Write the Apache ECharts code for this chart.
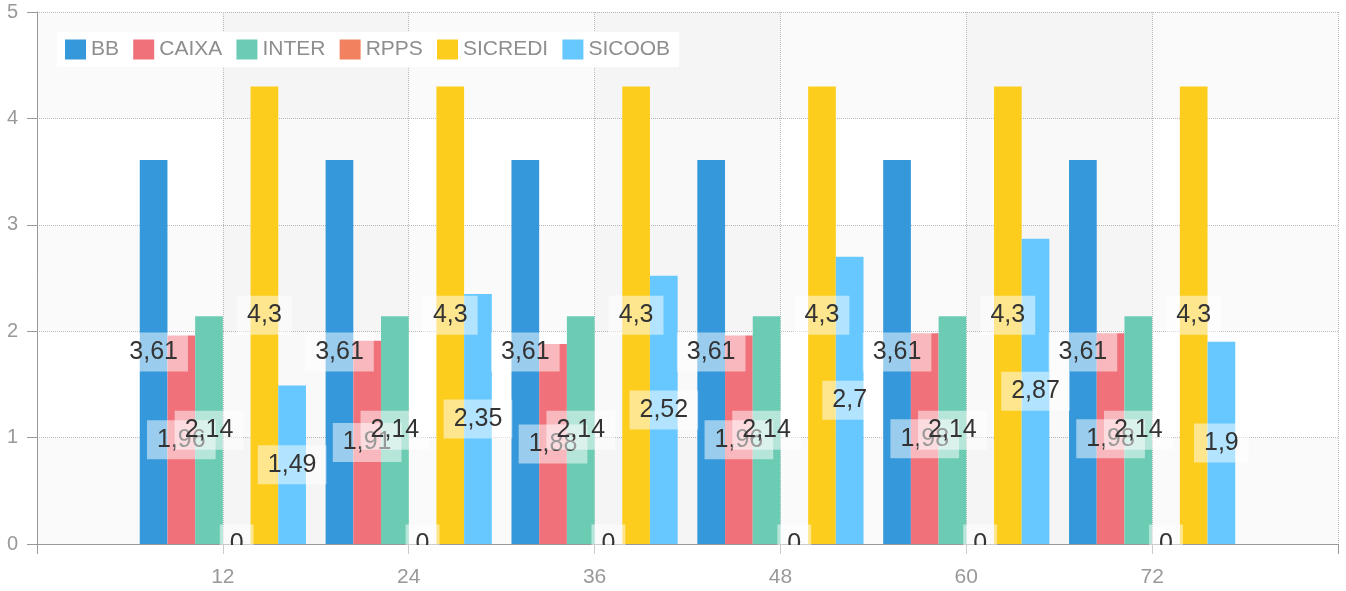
<!DOCTYPE html>
<html>
<head>
<meta charset="utf-8">
<script src="https://cdn.jsdelivr.net/npm/echarts@6/dist/echarts.min.js"></script>
<style>
html,body{margin:0;padding:0;background:#fff;}
#chart{width:1346px;height:591px;}
</style>
</head>
<body>
<div id="chart"></div>
<script>
var categories = [12, 24, 36, 48, 60, 72];
var seriesNames = ['BB', 'CAIXA', 'INTER', 'RPPS', 'SICREDI', 'SICOOB'];
var BB = [3.61, 3.61, 3.61, 3.61, 3.61, 3.61];
var CAIXA = [1.96, 1.91, 1.88, 1.96, 1.98, 1.98];
var INTER = [2.14, 2.14, 2.14, 2.14, 2.14, 2.14];
var RPPS = [0, 0, 0, 0, 0, 0];
var SICREDI = [4.3, 4.3, 4.3, 4.3, 4.3, 4.3];
var SICOOB = [1.49, 2.35, 2.52, 2.7, 2.87, 1.9];
var xTickLabels = ['12', '24', '36', '48', '60', '72'];
var yTickLabels = ['0', '1', '2', '3', '4', '5'];

var seriesValues = [BB, CAIXA, INTER, RPPS, SICREDI, SICOOB];
var colors = ['#3498db', '#f0717a', '#6ccbb3', '#f2825f', '#fccd1d', '#66c8fe'];
var FONT = 'Liberation Sans, Arial, sans-serif';

var chart = echarts.init(document.getElementById('chart'), null, {renderer: 'canvas'});

var series = seriesNames.map(function (name, i) {
  return {
    name: name,
    type: 'bar',
    barWidth: 27.7,
    barGap: '0%',
    data: categories.map(function (c, j) { return [c, seriesValues[i][j]]; }),
    itemStyle: {color: colors[i]},
    label: {
      show: true,
      position: 'inside',
      color: '#333',
      fontSize: 25,
      fontFamily: FONT,
      lineHeight: 25,
      backgroundColor: 'rgba(255,255,255,0.5)',
      padding: [7, 10],
      textBorderWidth: 0,
      formatter: function (p) { return String(p.value[1]).replace('.', ','); }
    }
  };
});

var option = {
  animation: false,
  color: colors,
  textStyle: {fontFamily: FONT},
  grid: {left: 37, right: 8, top: 12, bottom: 47, containLabel: false},
  legend: {
    data: seriesNames,
    left: 57,
    top: 32,
    padding: [7, 9, 7, 8],
    backgroundColor: '#fff',
    itemWidth: 21,
    itemHeight: 20,
    itemGap: 14.2,
    icon: 'rect',
    textStyle: {fontSize: 21, color: '#8e8e8e', fontFamily: FONT}
  },
  xAxis: {
    type: 'value',
    min: 0,
    max: 84,
    interval: 12,
    axisLine: {show: true, lineStyle: {color: '#999', width: 1}},
    axisTick: {show: true, length: 10, lineStyle: {color: '#999'}},
    axisLabel: {
      color: '#999',
      fontSize: 21,
      margin: 23,
      fontFamily: FONT,
      formatter: function (v) {
        var idx = categories.indexOf(v);
        return idx >= 0 ? xTickLabels[idx] : '';
      }
    },
    splitLine: {show: true, lineStyle: {type: 'dotted', color: '#bbb'}},
    splitArea: {show: true, areaStyle: {color: ['rgba(0,0,0,0)', 'rgba(0,0,0,0.022)']}}
  },
  yAxis: {
    type: 'value',
    min: 0,
    max: 5,
    interval: 1,
    axisLine: {show: true, lineStyle: {color: '#999', width: 1}},
    axisTick: {show: true, length: 10, lineStyle: {color: '#999'}},
    axisLabel: {
      color: '#999',
      fontSize: 20,
      margin: 19,
      fontFamily: FONT,
      formatter: function (v) { return yTickLabels[Math.round(v)]; }
    },
    splitLine: {show: true, lineStyle: {type: 'dotted', color: '#bbb'}},
    splitArea: {show: true, areaStyle: {color: ['rgba(0,0,0,0.02)', 'rgba(0,0,0,0)']}}
  },
  series: series
};

chart.setOption(option);

// Labels of zero-height bars are cut at the x axis line in the reference:
// mask the part below the axis, positioned through the chart's own scales.
var masks = [];
RPPS.forEach(function (v, j) {
  if (v !== 0) return;
  var p = chart.convertToPixel({seriesIndex: 3}, [categories[j], v]);
  var bar = chart.getModel().getSeriesByIndex(3).getData().getItemLayout(j);
  var cx = bar ? bar.x + bar.width / 2 : p[0];
  masks.push({
    type: 'rect',
    z: 100,
    silent: true,
    shape: {x: cx - 11, y: p[1] + 1, width: 22, height: 22},
    style: {fill: '#fff'}
  });
});
chart.setOption({graphic: masks});
</script>
</body>
</html>
